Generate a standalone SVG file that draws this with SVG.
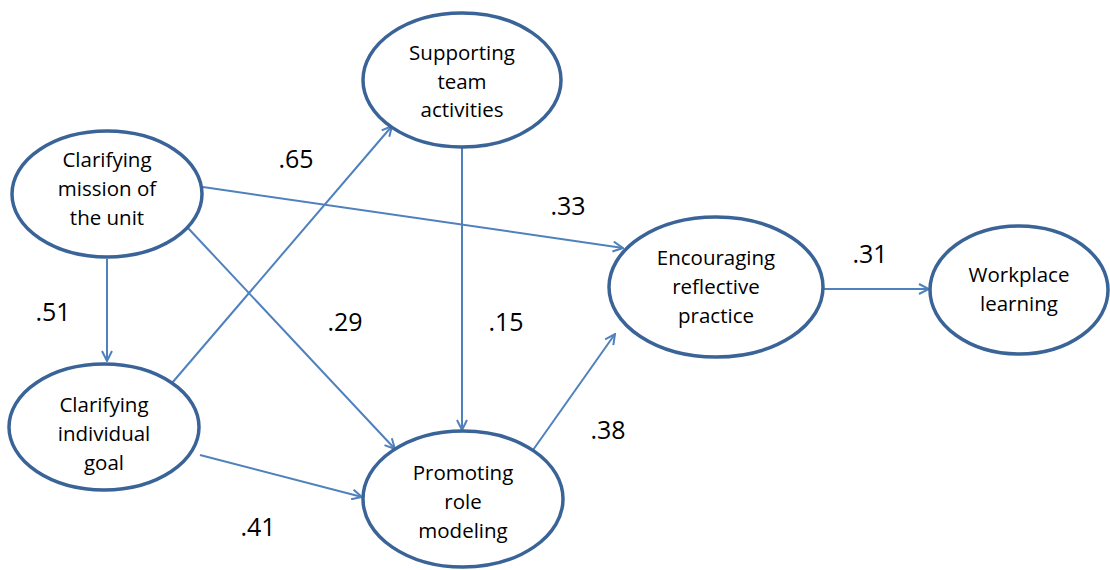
<svg xmlns="http://www.w3.org/2000/svg" width="1110" height="570" viewBox="0 0 1110 570">
<style>
.node ellipse{fill:#fff;stroke:#3A6497;stroke-width:3.5}
.node text{font-family:"Open Sans","Liberation Sans",sans-serif;font-size:20.5px;fill:#000;text-anchor:middle}
.edge{stroke:#4F81BD;stroke-width:2;fill:none;marker-end:url(#arr)}
.lbl{font-family:"Open Sans","Liberation Sans",sans-serif;font-size:25px;fill:#000;text-anchor:middle}
</style>
<defs>
<marker id="arr" viewBox="0 0 12 12" refX="11" refY="6" markerWidth="12" markerHeight="12" markerUnits="userSpaceOnUse" orient="auto">
<path d="M1,1 L11,6 L1,11" fill="none" stroke="#4F81BD" stroke-width="2"/>
</marker>
</defs>
<g id="connectors">
<line class="edge" x1="107" y1="259" x2="107" y2="361"/>
<line class="edge" x1="188" y1="228" x2="395" y2="449"/>
<line class="edge" x1="203" y1="187" x2="623" y2="248"/>
<line class="edge" x1="172" y1="383" x2="392" y2="126"/>
<line class="edge" x1="200" y1="455" x2="362" y2="497"/>
<line class="edge" x1="462" y1="148" x2="462" y2="430"/>
<line class="edge" x1="533" y1="450" x2="615" y2="334"/>
<line class="edge" x1="824" y1="289" x2="929" y2="289"/>
</g>
<g id="labels">
<text class="lbl" x="296" y="168">.65</text>
<text class="lbl" x="568" y="215">.33</text>
<text class="lbl" x="53" y="321">.51</text>
<text class="lbl" x="345" y="331">.29</text>
<text class="lbl" x="506" y="331">.15</text>
<text class="lbl" x="870" y="263">.31</text>
<text class="lbl" x="608" y="439">.38</text>
<text class="lbl" x="258" y="536">.41</text>
</g>
<g id="n-mission" class="node">
<ellipse cx="107" cy="194" rx="95" ry="63"/>
<text x="107" y="167">Clarifying</text>
<text x="107" y="196">mission of</text>
<text x="107" y="225">the unit</text>
</g>
<g id="n-goal" class="node">
<ellipse cx="104" cy="427" rx="95" ry="63"/>
<text x="104" y="412">Clarifying</text>
<text x="104" y="441">individual</text>
<text x="104" y="470">goal</text>
</g>
<g id="n-support" class="node">
<ellipse cx="462" cy="80" rx="99" ry="67"/>
<text x="462" y="60">Supporting</text>
<text x="462" y="89">team</text>
<text x="462" y="117">activities</text>
</g>
<g id="n-encourage" class="node">
<ellipse cx="716" cy="287" rx="107" ry="70"/>
<text x="716" y="265">Encouraging</text>
<text x="716" y="294">reflective</text>
<text x="716" y="323">practice</text>
</g>
<g id="n-promote" class="node">
<ellipse cx="463" cy="499" rx="100" ry="68"/>
<text x="463" y="480">Promoting</text>
<text x="463" y="509">role</text>
<text x="463" y="538">modeling</text>
</g>
<g id="n-work" class="node">
<ellipse cx="1019" cy="290" rx="89" ry="64"/>
<text x="1019" y="282">Workplace</text>
<text x="1019" y="311">learning</text>
</g>
</svg>
